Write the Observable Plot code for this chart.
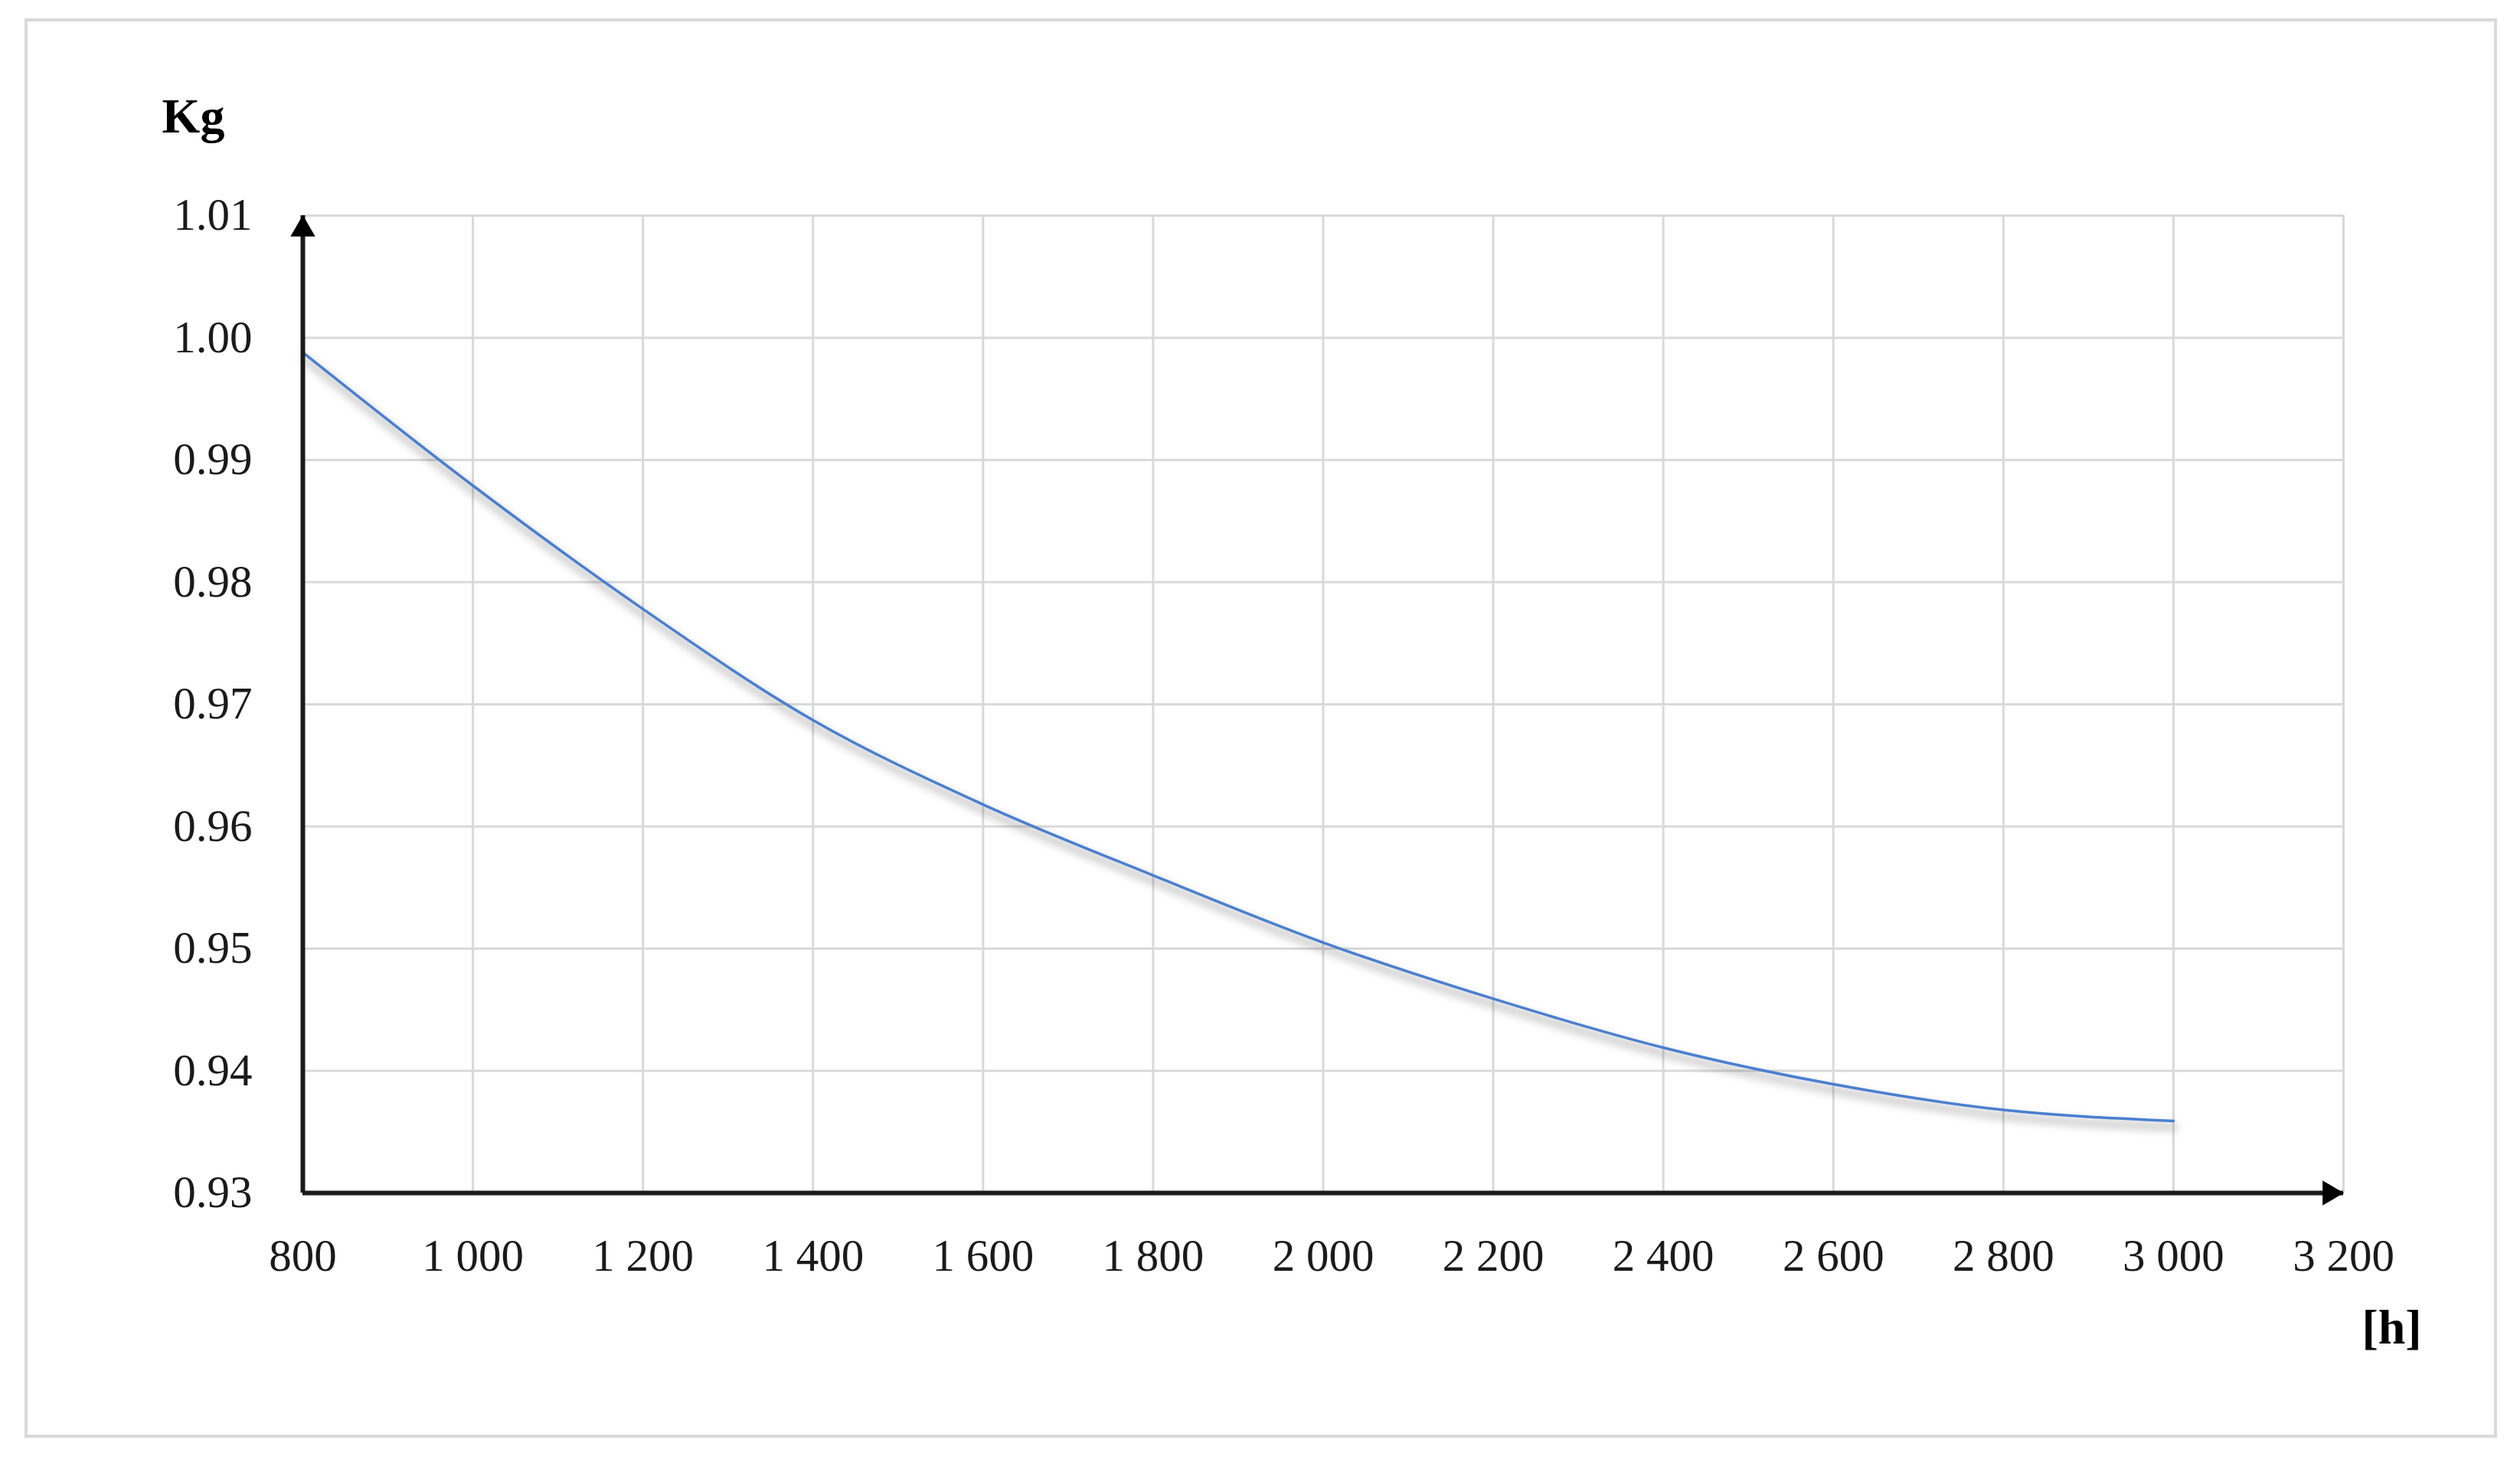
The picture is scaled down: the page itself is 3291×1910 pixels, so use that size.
<!DOCTYPE html>
<html>
<head>
<meta charset="utf-8">
<script src="https://cdn.jsdelivr.net/npm/d3@7"></script>
<script src="https://cdn.jsdelivr.net/npm/@observablehq/plot@0.6"></script>
<style>
  html, body { margin: 0; padding: 0; background: #ffffff; overflow: hidden; }
  #wrap { position: relative; width: 3291px; height: 1910px; }
  #frame { position: absolute; left: 32px; top: 24px; width: 3229px; height: 1853px; border: 4px solid #d9d9d9; box-sizing: border-box; pointer-events: none; }
</style>
</head>
<body>
<div id="wrap"><div id="frame"></div></div>
<script>
// ---- data ----
const hours = [800, 1000, 1200, 1400, 1600, 1800, 2000, 2200, 2400, 2600, 2800, 3000];
const kg    = [0.9988, 0.9879, 0.9778, 0.9687, 0.9618, 0.9560, 0.9505, 0.9459, 0.9419, 0.9389, 0.9368, 0.9359];
const xTicks = [800, 1000, 1200, 1400, 1600, 1800, 2000, 2200, 2400, 2600, 2800, 3000, 3200];
const yTicks = [0.93, 0.94, 0.95, 0.96, 0.97, 0.98, 0.99, 1.00, 1.01];
const xDomain = [800, 3200];
const yDomain = [0.93, 1.01];
const yLabel = "Kg";
const xLabel = "[h]";

const table = hours.map((h, i) => ({h, k: kg[i]}));
const spaceFmt = d3.formatLocale({decimal: ".", thousands: " ", grouping: [3], currency: ["", ""]}).format(",");

const W = 3291, H = 1910;
const plot = Plot.plot({
  width: W,
  height: H,
  marginLeft: 395,
  marginRight: 231,
  marginTop: 281,
  marginBottom: 353,
  style: {fontFamily: "'Liberation Serif', 'DejaVu Serif', serif", fontSize: "59px", color: "#1a1a1a", background: "transparent", overflow: "visible"},
  x: {domain: xDomain, ticks: xTicks, tickFormat: spaceFmt, tickSize: 0, tickPadding: 60, label: null, nice: false},
  y: {domain: yDomain, ticks: yTicks, tickFormat: d3.format(".2f"), tickSize: 0, tickPadding: 66, label: null, nice: false},
  marks: [
    Plot.ruleX(xTicks, {stroke: "#d9d9d9", strokeWidth: 3}),
    Plot.ruleY(yTicks, {stroke: "#d9d9d9", strokeWidth: 3}),
    // shadow of the curve
    Plot.line(table, {x: "h", y: "k", curve: "monotone-x", stroke: "#000000", strokeOpacity: 0.28, strokeWidth: 7, dy: 8, dx: 2}),
    Plot.line(table, {x: "h", y: "k", curve: "monotone-x", stroke: "#4A7FD0", strokeWidth: 3.5}),
    // axes lines
    Plot.ruleX([xDomain[0]], {stroke: "#1a1a1a", strokeWidth: 6}),
    Plot.ruleY([yDomain[0]], {stroke: "#1a1a1a", strokeWidth: 6, x1: xDomain[0], x2: xDomain[1]}),
    // arrowheads
    Plot.dot([[xDomain[0], yDomain[1]]], {x: d => d[0], y: d => d[1], symbol: "triangle", r: 12, fill: "#000000", stroke: "none", dy: 18}),
    Plot.dot([[xDomain[1], yDomain[0]]], {x: d => d[0], y: d => d[1], symbol: "triangle", r: 12, fill: "#000000", stroke: "none", rotate: 90, dx: -18}),
    // axis titles
    Plot.text([yLabel], {text: d => d, frameAnchor: "top-left", dx: -143, dy: -109, lineAnchor: "bottom", textAnchor: "middle", fontWeight: "bold", fontSize: 64, fill: "#000000"}),
    Plot.text([xLabel], {text: d => d, frameAnchor: "bottom-right", dx: 63, dy: 196, lineAnchor: "bottom", textAnchor: "middle", fontWeight: "bold", fontSize: 64, fill: "#000000"})
  ]
});

// blur filter for the curve shadow
const svg = d3.select(plot);
const defs = svg.insert("defs", ":first-child");
defs.append("filter").attr("id", "curveShadow").attr("x", "-5%").attr("y", "-20%").attr("width", "110%").attr("height", "140%")
  .append("feGaussianBlur").attr("stdDeviation", 6);
const lines = plot.querySelectorAll('g[aria-label="line"]');
if (lines.length) lines[0].setAttribute("filter", "url(#curveShadow)");

plot.style.position = "absolute";
plot.style.left = "0px";
plot.style.top = "0px";
document.getElementById("wrap").appendChild(plot);
</script>
</body>
</html>
